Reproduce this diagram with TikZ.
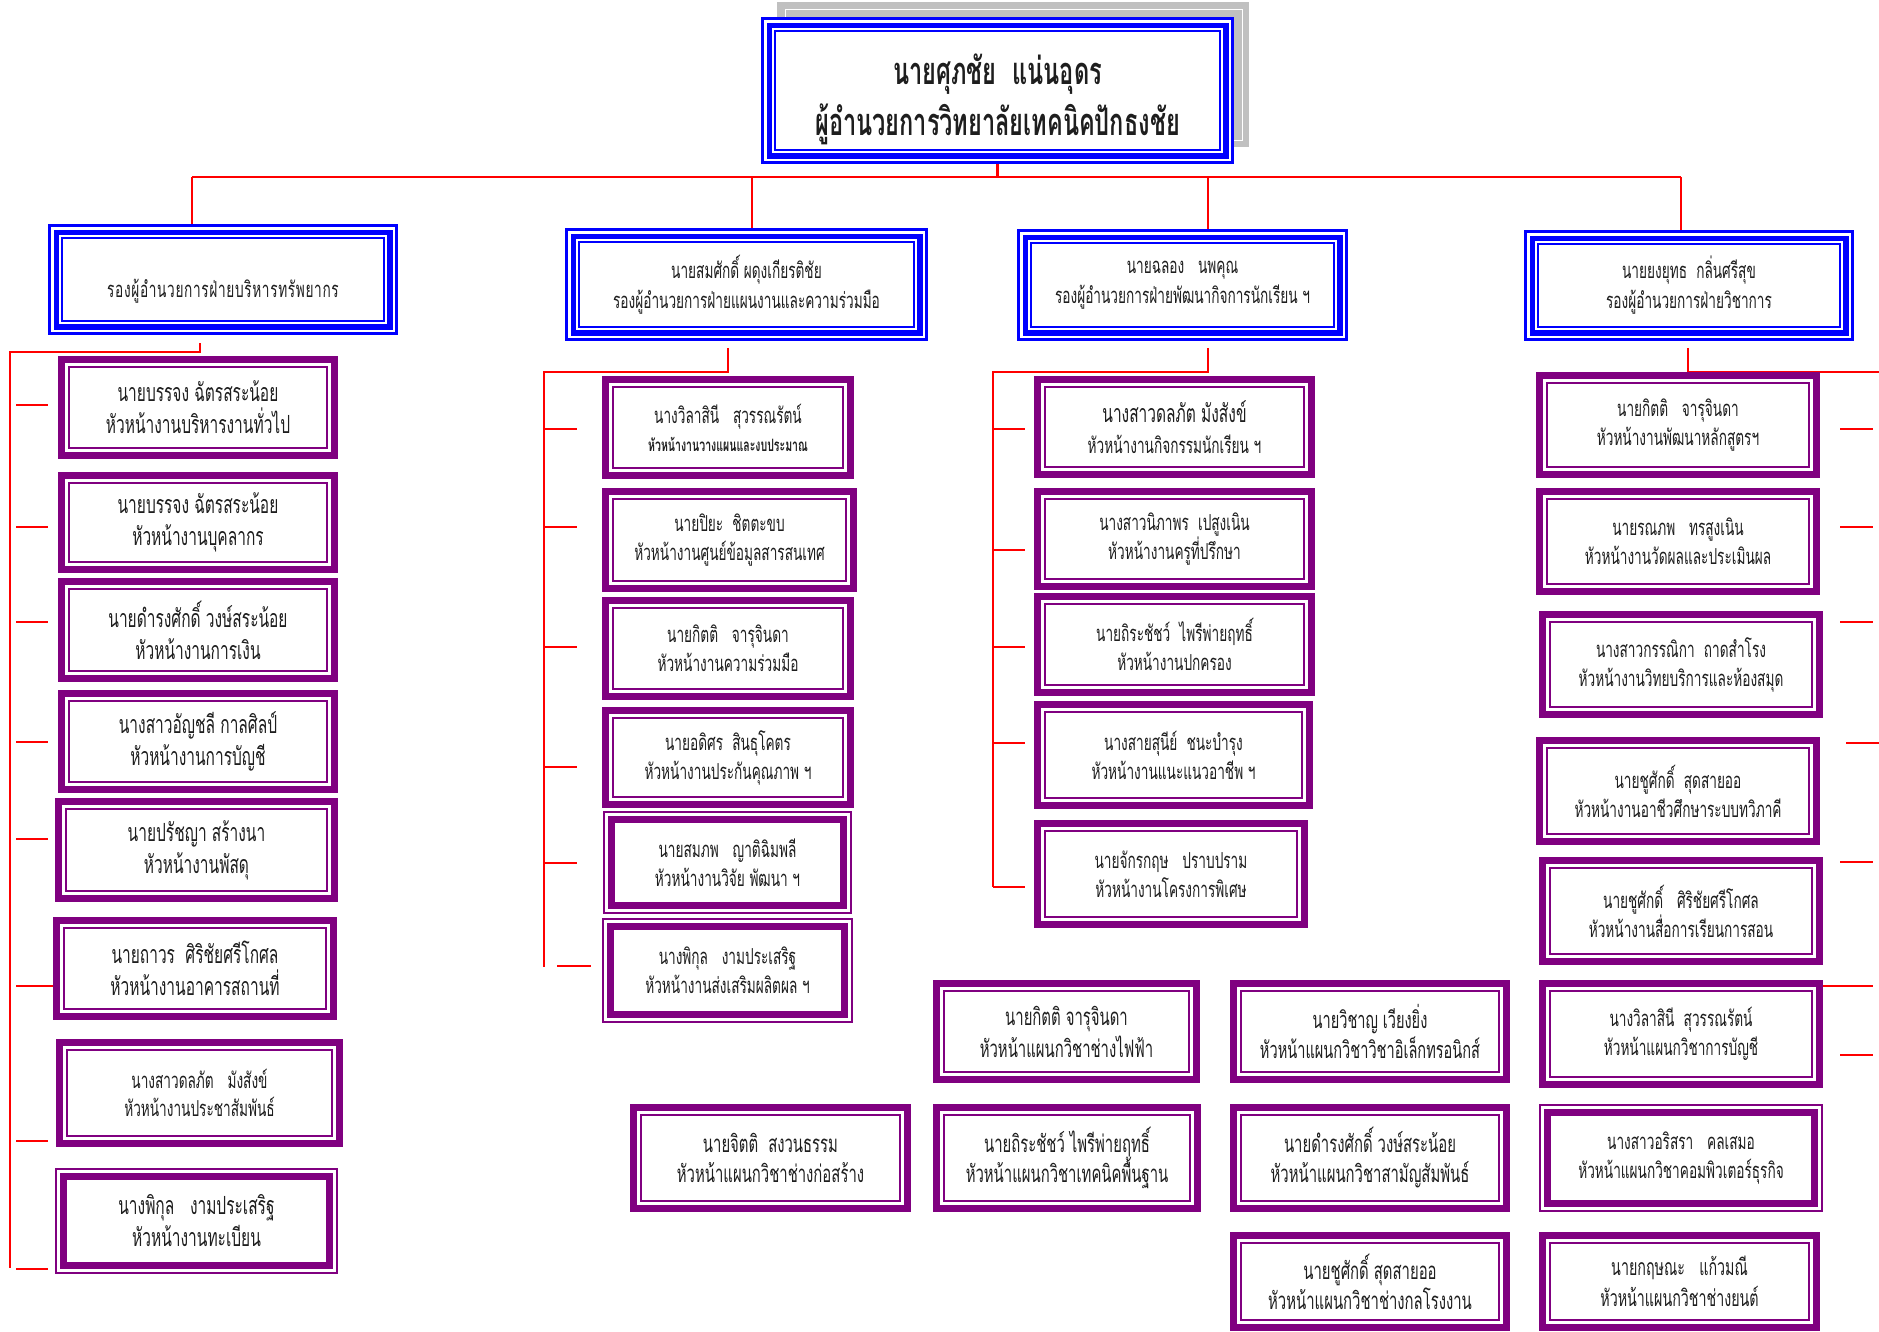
\documentclass[tikz,border=0pt]{standalone}
\usepackage{fontspec}
\newfontfamily\thai[Script=Thai,FakeStretch=0.62]{Loma}
\usetikzlibrary{backgrounds}
\definecolor{bluec}{RGB}{0,0,255}
\definecolor{purp}{RGB}{128,0,128}
\definecolor{redc}{RGB}{255,0,0}
\definecolor{grayc}{RGB}{192,192,192}
\definecolor{inkc}{RGB}{30,30,30}
\newcommand\ins[3]{\draw[#1,line width=#3pt] ([xshift=#2pt,yshift=-#2pt]path picture bounding box.north west) rectangle ([xshift=-#2pt,yshift=#2pt]path picture bounding box.south east);}
\newcommand\fs[2]{\thai\fontsize{#1}{#2}\selectfont}
\tikzset{
 boxbase/.style={inner sep=0pt, align=center, fill=white, text=inkc, font=\fs{22}{30}},
 bluebox/.style={boxbase, path picture={\ins{bluec}{1.5}{3}\ins{bluec}{8.25}{5.5}\ins{bluec}{14}{2}}},
 pbox/.style={boxbase, path picture={\ins{purp}{3.5}{7}\ins{purp}{11}{2}}},
 rbox/.style={boxbase, path picture={\ins{purp}{1}{2}\ins{purp}{8.5}{7}}},
 link/.style={draw=redc, line width=2.4pt},
 titletext/.style={inner sep=0pt, align=center, text=inkc, font=\fs{38}{51}\bfseries},
}
\newcommand\mybox[7]{%
 \pgfmathsetmacro\cx{(#3+#5)/2}%
 \pgfmathsetmacro\cy{(#4+#6)/2}%
 \pgfmathsetmacro\ww{#5-#3}%
 \pgfmathsetmacro\hh{#6-#4}%
 \node[#2,minimum width=\ww pt,minimum height=\hh pt] (#1) at (\cx,\cy) {#7};}
\begin{document}
\begin{tikzpicture}[x=1pt,y=-1pt]
\useasboundingbox (0,0) rectangle (1879,1331);
% shadow of the top box
\fill[grayc] (777,2) rectangle (1249,147);
\draw[white,line width=1pt] (785,9) rectangle (1242,140);
\mybox{top}{bluebox}{761}{17}{1234}{164}{}
\node[titletext] (toptext) at ([yshift=-9pt]top.center) {นายศุภชัย\ \ แน่นอุดร\\ผู้อำนวยการวิทยาลัยเทคนิคปักธงชัย};
% deputies
\mybox{B1}{bluebox}{48}{224}{398}{335}{\phantom{นาย}\\\addfontfeature{LetterSpace=3}รองผู้อำนวยการฝ่ายบริหารทรัพยากร}
\mybox{B2}{bluebox}{565}{228}{928}{341}{นายสมศักดิ์\ ผดุงเกียรติชัย\\รองผู้อำนวยการฝ่ายแผนงานและความร่วมมือ}
\mybox{B3}{bluebox}{1017}{229}{1348}{341}{นายฉลอง\ \ \ นพคุณ\\รองผู้อำนวยการฝ่ายพัฒนากิจการนักเรียน ฯ}
\mybox{B4}{bluebox}{1524}{230}{1854}{341}{นายยงยุทธ\ \ กลิ่นศรีสุข\\รองผู้อำนวยการฝ่ายวิชาการ}
% column 1
\mybox{c1a}{pbox,font=\fs{25}{32}}{58}{356}{338}{459}{นายบรรจง ฉัตรสระน้อย\\หัวหน้างานบริหารงานทั่วไป}
\mybox{c1b}{pbox,font=\fs{25}{32}}{58}{472}{338}{573}{นายบรรจง ฉัตรสระน้อย\\หัวหน้างานบุคลากร}
\mybox{c1c}{pbox,font=\fs{25}{32}}{58}{578}{338}{682}{นายดำรงศักดิ์ วงษ์สระน้อย\\หัวหน้างานการเงิน}
\mybox{c1d}{pbox,font=\fs{25}{32}}{58}{690}{338}{793}{นางสาวอัญชลี กาลศิลป์\\หัวหน้างานการบัญชี}
\mybox{c1e}{pbox,font=\fs{25}{32}}{55}{798}{338}{902}{นายปรัชญา สร้างนา\\หัวหน้างานพัสดุ}
\mybox{c1f}{pbox,font=\fs{25}{32}}{53}{917}{337}{1020}{นายถาวร\ \ ศิริชัยศรีโกศล\\หัวหน้างานอาคารสถานที่}
\mybox{c1g}{pbox,font=\fs{22}{28}}{56}{1039}{343}{1147}{นางสาวดลภัต\ \ \ มังสังข์\\หัวหน้างานประชาสัมพันธ์}
\mybox{c1h}{rbox,font=\fs{25}{32}}{55}{1168}{338}{1274}{นางพิกุล\ \ \ งามประเสริฐ\\หัวหน้างานทะเบียน}
% column 2
\mybox{c2a}{pbox,font=\fs{22}{28}}{602}{376}{854}{479}{นางวิลาสินี\ \ \ สุวรรณรัตน์\\{\bfseries\fontsize{17}{28}\selectfont หัวหน้างานวางแผนและงบประมาณ}}
\mybox{c2b}{pbox,font=\fs{22}{29}}{602}{488}{857}{592}{นายปิยะ\ \ ชิตตะขบ\\หัวหน้างานศูนย์ข้อมูลสารสนเทศ}
\mybox{c2c}{pbox,font=\fs{22}{29}}{602}{597}{854}{700}{นายกิตติ\ \ \ จารุจินดา\\หัวหน้างานความร่วมมือ}
\mybox{c2d}{pbox,font=\fs{22}{29}}{602}{707}{854}{808}{นายอดิศร\ \ สินธุโคตร\\หัวหน้างานประกันคุณภาพ ฯ}
\mybox{c2e}{rbox,font=\fs{22}{29}}{603}{811}{852}{914}{นายสมภพ\ \ \ ญาติฉิมพลี\\หัวหน้างานวิจัย พัฒนา ฯ}
\mybox{c2f}{rbox,font=\fs{22}{29}}{602}{918}{853}{1023}{นางพิกุล\ \ \ งามประเสริฐ\\หัวหน้างานส่งเสริมผลิตผล ฯ}
% column 3
\mybox{c3a}{pbox,font=\fs{22}{31}}{1034}{376}{1315}{478}{{\fontsize{25}{31}\selectfont นางสาวดลภัต\ มังสังข์}\\หัวหน้างานกิจกรรมนักเรียน ฯ}
\mybox{c3b}{pbox,font=\fs{22}{29}}{1034}{488}{1315}{590}{นางสาวนิภาพร\ \ เปสูงเนิน\\หัวหน้างานครูที่ปรึกษา}
\mybox{c3c}{pbox,font=\fs{22}{29}}{1034}{593}{1315}{696}{นายถิระชัชว์\ \ ไพรีพ่ายฤทธิ์\\หัวหน้างานปกครอง}
\mybox{c3d}{pbox,font=\fs{22}{29}}{1034}{701}{1313}{809}{นางสายสุนีย์\ \ ชนะบำรุง\\หัวหน้างานแนะแนวอาชีพ ฯ}
\mybox{c3e}{pbox,font=\fs{22}{29}}{1034}{820}{1308}{928}{นายจักรกฤษ\ \ \ ปราบปราม\\หัวหน้างานโครงการพิเศษ}
% column 4
\mybox{c4a}{pbox,font=\fs{22}{29}}{1536}{372}{1820}{478}{นายกิตติ\ \ \ จารุจินดา\\หัวหน้างานพัฒนาหลักสูตรฯ}
\mybox{c4b}{pbox,font=\fs{22}{29}}{1536}{488}{1820}{595}{นายรณภพ\ \ \ ทรสูงเนิน\\หัวหน้างานวัดผลและประเมินผล}
\mybox{c4c}{pbox,font=\fs{22}{29}}{1539}{611}{1823}{718}{นางสาวกรรณิกา\ \ ถาดสำโรง\\หัวหน้างานวิทยบริการและห้องสมุด}
\mybox{c4d}{pbox,font=\fs{22}{29}}{1536}{737}{1820}{845}{นายชูศักดิ์\ \ สุดสายออ\\หัวหน้างานอาชีวศึกษาระบบทวิภาคี}
\mybox{c4e}{pbox,font=\fs{22}{29}}{1539}{857}{1823}{965}{นายชูศักดิ์\ \ \ ศิริชัยศรีโกศล\\หัวหน้างานสื่อการเรียนการสอน}
\mybox{c4f}{pbox,font=\fs{22}{29}}{1539}{980}{1823}{1088}{นางวิลาสินี\ \ สุวรรณรัตน์\\หัวหน้าแผนกวิชาการบัญชี}
\mybox{c4g}{rbox,font=\fs{22}{29}}{1539}{1104}{1823}{1212}{นางสาวอริสรา\ \ \ คลเสมอ\\หัวหน้าแผนกวิชาคอมพิวเตอร์ธุรกิจ}
\mybox{c4h}{pbox,font=\fs{23}{31}}{1539}{1232}{1820}{1331}{นายกฤษณะ\ \ \ แก้วมณี\\หัวหน้าแผนกวิชาช่างยนต์}
% departments
\mybox{d1}{pbox,font=\fs{24}{32}}{933}{980}{1200}{1083}{นายกิตติ\ จารุจินดา\\หัวหน้าแผนกวิชาช่างไฟฟ้า}
\mybox{d2}{pbox,font=\fs{23.5}{30}}{1230}{980}{1510}{1083}{นายวิชาญ\ เวียงยิ่ง\\หัวหน้าแผนกวิชาวิชาอิเล็กทรอนิกส์}
\mybox{d3}{pbox,font=\fs{24}{30}}{630}{1104}{911}{1212}{นายจิตติ\ \ สงวนธรรม\\หัวหน้าแผนกวิชาช่างก่อสร้าง}
\mybox{d4}{pbox,font=\fs{24}{30}}{933}{1104}{1201}{1212}{นายถิระชัชว์\ ไพรีพ่ายฤทธิ์\\หัวหน้าแผนกวิชาเทคนิคพื้นฐาน}
\mybox{d5}{pbox,font=\fs{24}{30}}{1230}{1104}{1510}{1212}{นายดำรงศักดิ์\ วงษ์สระน้อย\\หัวหน้าแผนกวิชาสามัญสัมพันธ์}
\mybox{d6}{pbox,font=\fs{24}{30}}{1230}{1232}{1510}{1331}{นายชูศักดิ์\ สุดสายออ\\หัวหน้าแผนกวิชาช่างกลโรงงาน}
% connectors
\coordinate (busL) at (192,177);
\coordinate (busR) at (1681,177);
\coordinate (t2) at (752,177);
\coordinate (t3) at (1208,177);
\coordinate (k1) at (200,352);
\coordinate (k1l) at (10,352);
\coordinate (k1e) at (10,1268);
\coordinate (k2) at (728,372);
\coordinate (k2l) at (544,372);
\coordinate (k2e) at (544,967);
\coordinate (k3) at (1208,372);
\coordinate (k3l) at (993,372);
\coordinate (k3e) at (993,887);
\coordinate (k4) at (1688,372);
\coordinate (k4r) at (1879,372);
\begin{scope}[on background layer]
\fill[white] (0,0) rectangle (1879,1331);
\draw[link] (top.south) -- (top.south |- busL);
\draw[link] (busL) -- (busR);
\draw[link] (busL) -- ([yshift=-6pt]busL |- B1.north);
\draw[link] (t2) -- (t2 |- B2.north);
\draw[link] (t3) -- (t3 |- B3.north);
\draw[link] (busR) -- ([yshift=-6pt]busR |- B4.north);
\draw[link] ([yshift=-8pt]k1 |- B1.south) -- (k1) -- (k1l) -- (k1e);
\foreach \y in {405,527,622,742,839,1141,1269} \draw[link] (16,\y) -- (48,\y);
\draw[link] (16,986) -- (c1f.west |- 0,986);
\draw[link] ([yshift=-7pt]k2 |- B2.south) -- (k2) -- (k2l) -- (k2e);
\foreach \y in {429,527,647,767,863} \draw[link] (544,\y) -- (577,\y);
\draw[link] (557,966) -- (591,966);
\draw[link] ([yshift=-7pt]k3 |- B3.south) -- (k3) -- (k3l) -- (k3e);
\foreach \y in {429,550,647,743,887} \draw[link] (993,\y) -- (1025,\y);
\draw[link] ([yshift=-7pt]k4 |- B4.south) -- (k4) -- (k4r);
\foreach \y in {429,527,622,862,1055} \draw[link] (1840,\y) -- (1873,\y);
\draw[link] (1846,743) -- (1879,743);
\draw[link] (c4f.east |- 0,986) -- (1873,986);
\end{scope}
\end{tikzpicture}
\end{document}
